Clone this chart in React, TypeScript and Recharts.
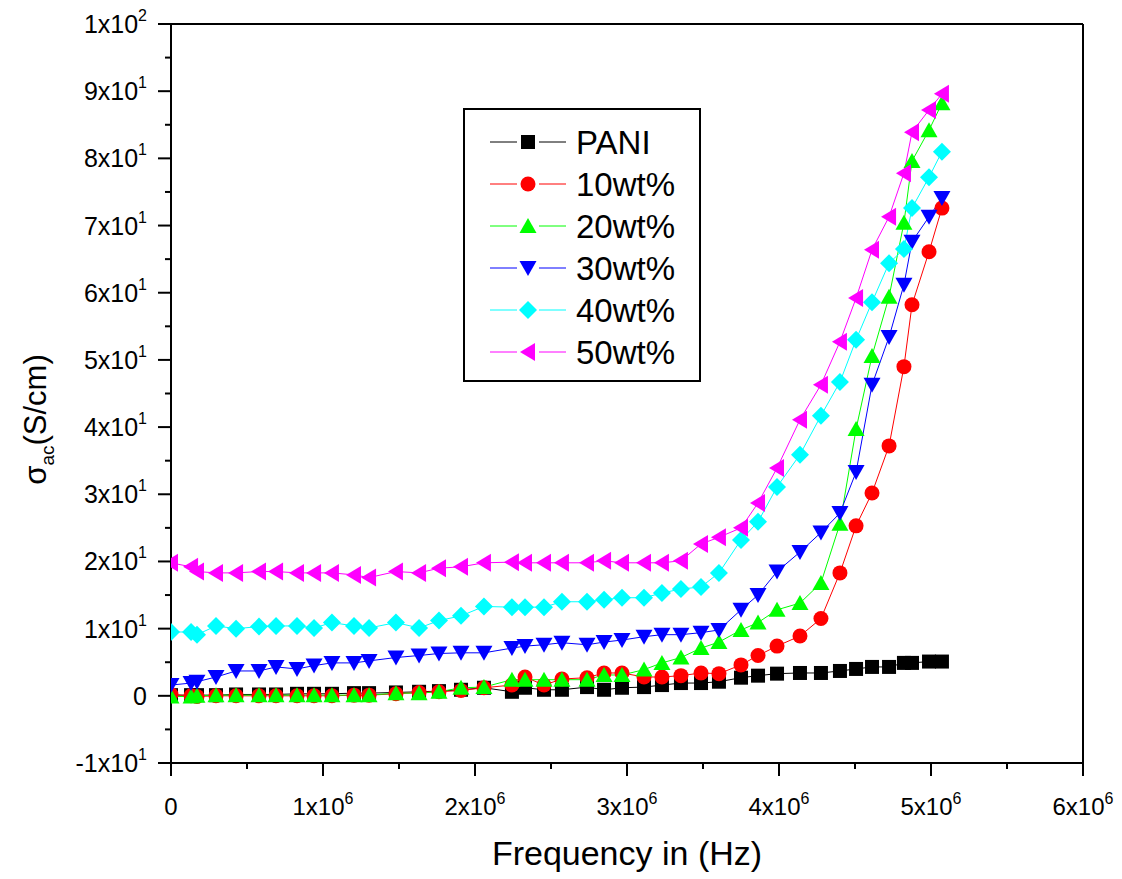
import React from 'react';
import { LineChart, Line, XAxis, YAxis, Legend, ReferenceLine } from 'recharts';

// Frequency points (Hz)
const frequencies = [
  0, 0.132e6, 0.171e6, 0.296e6, 0.428e6, 0.579e6, 0.691e6, 0.829e6, 0.941e6, 1.059e6,
  1.204e6, 1.303e6, 1.48e6, 1.632e6, 1.763e6, 1.908e6, 2.059e6, 2.243e6, 2.329e6, 2.454e6,
  2.572e6, 2.737e6, 2.849e6, 2.967e6, 3.112e6, 3.23e6, 3.355e6, 3.487e6, 3.605e6, 3.75e6,
  3.862e6, 3.987e6, 4.138e6, 4.276e6, 4.401e6, 4.507e6, 4.612e6, 4.724e6, 4.822e6, 4.875e6,
  4.987e6, 5.072e6,
];

// AC conductivity (S/cm) for each sample
const pani = [
  0.1, 0.1, 0.1, 0.1, 0.2, 0.2, 0.2, 0.3, 0.3, 0.3, 0.4, 0.4, 0.5, 0.6, 0.7, 0.9,
  1.2, 0.6, 1.2, 0.9, 0.9, 1.3, 0.9, 1.2, 1.3, 1.6, 1.9, 1.9, 2.1, 2.7, 3.0, 3.3,
  3.4, 3.4, 3.7, 4.0, 4.3, 4.3, 4.9, 4.9, 5.1, 5.1,
];
const wt10 = [
  0.2, 0.0, -0.1, 0.0, 0.0, 0.0, 0.0, 0.0, 0.0, 0.0, 0.1, 0.1, 0.3, 0.5, 0.6, 0.8,
  1.2, 1.6, 2.8, 1.6, 2.5, 2.7, 3.4, 3.4, 2.8, 2.8, 3.0, 3.4, 3.3, 4.6, 6.0, 7.4,
  8.9, 11.5, 18.3, 25.3, 30.2, 37.2, 49.0, 58.2, 66.1, 72.6,
];
const wt20 = [
  -0.1, -0.1, 0.0, 0.1, 0.1, 0.1, 0.1, 0.1, 0.1, 0.1, 0.1, 0.1, 0.4, 0.4, 0.6, 1.2,
  1.3, 2.4, 2.4, 2.4, 2.4, 2.4, 3.1, 3.1, 3.9, 4.9, 5.7, 7.1, 8.0, 9.8, 10.9, 12.8,
  13.8, 16.8, 25.6, 39.7, 50.6, 59.4, 70.4, 79.6, 84.2, 88.2,
];
const wt30 = [
  1.6, 1.9, 2.1, 2.8, 3.7, 3.7, 4.3, 4.0, 4.5, 4.9, 4.9, 5.2, 5.7, 6.0, 6.3, 6.4,
  6.4, 7.1, 7.4, 7.6, 7.9, 7.6, 8.0, 8.3, 8.8, 9.1, 9.1, 9.4, 9.8, 12.8, 15.0, 18.5,
  21.4, 24.3, 27.2, 33.3, 46.3, 53.4, 61.2, 67.6, 71.3, 74.1,
];
const wt40 = [
  9.5, 9.5, 9.1, 10.4, 10.0, 10.3, 10.4, 10.4, 10.1, 10.9, 10.4, 10.1, 10.9, 10.1, 11.2, 11.9,
  13.3, 13.2, 13.2, 13.2, 14.0, 14.0, 14.3, 14.6, 14.6, 15.3, 15.9, 16.2, 18.3, 23.2, 25.9, 31.1,
  35.9, 41.7, 46.7, 53.0, 58.6, 64.4, 66.5, 72.6, 77.2, 81.0,
];
const wt50 = [
  19.8, 19.2, 18.5, 18.3, 18.3, 18.5, 18.5, 18.3, 18.3, 18.3, 18.0, 17.6, 18.5, 18.3, 19.0, 19.2,
  19.8, 19.9, 19.8, 19.8, 19.8, 19.8, 20.1, 19.8, 19.8, 19.8, 20.1, 22.6, 23.6, 25.0, 28.7, 33.9,
  41.1, 46.3, 52.7, 59.2, 66.4, 71.3, 77.8, 83.9, 87.2, 89.6,
];

// Axis ticks (major ticks carry labels, the in-between ones are minor)
const xTicks = [0, 0.5e6, 1e6, 1.5e6, 2e6, 2.5e6, 3e6, 3.5e6, 4e6, 4.5e6, 5e6, 5.5e6, 6e6];
const yTicks = [-10, -5, 0, 5, 10, 15, 20, 25, 30, 35, 40, 45, 50, 55, 60, 65, 70, 75, 80, 85, 90, 95, 100];

const seriesNames = ['PANI', '10wt%', '20wt%', '30wt%', '40wt%', '50wt%'];
const seriesValues = [pani, wt10, wt20, wt30, wt40, wt50];

type Shape = 'square' | 'circle' | 'up' | 'down' | 'diamond' | 'left';
const seriesStyle: { key: string; color: string; shape: Shape }[] = [
  { key: 'pani', color: '#000000', shape: 'square' },
  { key: 'wt10', color: '#ff0000', shape: 'circle' },
  { key: 'wt20', color: '#00ff00', shape: 'up' },
  { key: 'wt30', color: '#0000ff', shape: 'down' },
  { key: 'wt40', color: '#00ffff', shape: 'diamond' },
  { key: 'wt50', color: '#ff00ff', shape: 'left' },
];

const rows = frequencies.map((f, i) => {
  const row: Record<string, number> = { freq: f };
  seriesStyle.forEach((s, k) => {
    row[s.key] = seriesValues[k][i];
  });
  return row;
});

const FONT = 'Arial, "Liberation Sans", sans-serif';

function Marker({ shape, cx, cy, color }: { shape: Shape; cx: number; cy: number; color: string }) {
  switch (shape) {
    case 'square':
      return <rect x={cx - 7} y={cy - 7} width={14} height={14} fill={color} />;
    case 'circle':
      return <circle cx={cx} cy={cy} r={7.5} fill={color} />;
    case 'up':
      return <polygon points={`${cx - 8.5},${cy + 7} ${cx + 8.5},${cy + 7} ${cx},${cy - 8}`} fill={color} />;
    case 'down':
      return <polygon points={`${cx - 8.5},${cy - 7} ${cx + 8.5},${cy - 7} ${cx},${cy + 8}`} fill={color} />;
    case 'diamond':
      return <polygon points={`${cx},${cy - 9} ${cx + 9},${cy} ${cx},${cy + 9} ${cx - 9},${cy}`} fill={color} />;
    case 'left':
    default:
      return <polygon points={`${cx - 8},${cy} ${cx + 7},${cy - 9} ${cx + 7},${cy + 9}`} fill={color} />;
  }
}

const makeDot = (shape: Shape, color: string) => (props: any) => {
  const { cx, cy, index } = props;
  if (cx == null || cy == null) return <g key={`d-${index}`} />;
  return (
    <g key={`d-${index}`}>
      <Marker shape={shape} cx={cx} cy={cy} color={color} />
    </g>
  );
};

const XTick = (props: any) => {
  const { x, y, payload } = props;
  const v: number = payload.value;
  const major = Math.abs(v % 1e6) < 1;
  const k = Math.round(v / 1e6);
  return (
    <g>
      <line x1={x} x2={x} y1={y} y2={y + (major ? 13 : 6)} stroke="#000" strokeWidth={2} />
      {major && (
        <text x={x} y={y + 52} textAnchor="middle" fontSize={24} fontFamily={FONT} fill="#000">
          {k === 0 ? (
            '0'
          ) : (
            <>
              {`${k}x10`}
              <tspan fontSize={16} dy={-11}>6</tspan>
            </>
          )}
        </text>
      )}
    </g>
  );
};

const YTick = (props: any) => {
  const { x, y, payload } = props;
  const v: number = payload.value;
  const major = v % 10 === 0;
  let mant = '';
  let exp = '';
  if (v !== 0) {
    const e = Math.floor(Math.log10(Math.abs(v)));
    const m = Math.round(v / Math.pow(10, e));
    mant = `${m}x10`;
    exp = `${e}`;
  }
  return (
    <g>
      <line x1={x} x2={x - (major ? 13 : 6)} y1={y} y2={y} stroke="#000" strokeWidth={2} />
      {major && (
        <text x={x - 24} y={y + 9} textAnchor="end" fontSize={25} fontFamily={FONT} fill="#000">
          {v === 0 ? (
            '0'
          ) : (
            <>
              {mant}
              <tspan fontSize={16} dy={-12}>{exp}</tspan>
            </>
          )}
        </text>
      )}
    </g>
  );
};

const YLabel = (props: any) => {
  const vb = props.viewBox || { x: 8, y: 16, width: 155, height: 739 };
  const cx = vb.x + 30;
  const cy = vb.y + vb.height / 2 + 26;
  return (
    <text
      x={cx}
      y={cy}
      transform={`rotate(-90 ${cx} ${cy})`}
      textAnchor="middle"
      fontSize={31}
      fontFamily={FONT}
      fill="#000"
    >
      σ
      <tspan fontSize={19} dy={8}>ac</tspan>
      <tspan dy={-8}>(S/cm)</tspan>
    </text>
  );
};

const LegendBox = () => (
  <svg width={238} height={274} style={{ display: 'block' }}>
    <rect x={1} y={1} width={236} height={272} fill="#fff" stroke="#000" strokeWidth={2} />
    {seriesStyle.map((s, i) => {
      const y = 34 + i * 42;
      return (
        <g key={s.key}>
          <line x1={27} x2={54} y1={y} y2={y} stroke={s.color} strokeWidth={1} />
          <line x1={76} x2={103} y1={y} y2={y} stroke={s.color} strokeWidth={1} />
          <Marker shape={s.shape} cx={65} cy={y} color={s.color} />
          <text x={113} y={y + 12} fontSize={33} fontFamily={FONT} fill="#000">
            {seriesNames[i]}
          </text>
        </g>
      );
    })}
  </svg>
);

export default function App() {
  return (
    <div style={{ width: 1110, height: 870, fontFamily: FONT }}>
      <LineChart
        width={1110}
        height={870}
        data={rows}
        margin={{ top: 16, right: 35, bottom: 10, left: 8 }}
      >
        <XAxis
          dataKey="freq"
          type="number"
          domain={[0, 6e6]}
          ticks={xTicks}
          interval={0}
          allowDataOverflow
          tickSize={0}
          tickMargin={0}
          tickLine={false}
          axisLine={{ stroke: '#000', strokeWidth: 2 }}
          tick={<XTick />}
          height={105}
          label={{
            value: 'Frequency in (Hz)',
            position: 'insideBottom',
            offset: 3,
            fontSize: 34,
            fill: '#000',
            fontFamily: FONT,
          }}
        />
        <YAxis
          type="number"
          domain={[-10, 100]}
          ticks={yTicks}
          interval={0}
          allowDataOverflow
          tickSize={0}
          tickMargin={0}
          tickLine={false}
          axisLine={{ stroke: '#000', strokeWidth: 2 }}
          tick={<YTick />}
          width={155}
          label={{ content: <YLabel /> }}
        />
        <ReferenceLine y={100} stroke="#000" strokeWidth={2} />
        <ReferenceLine x={6e6} stroke="#000" strokeWidth={2} />
        {seriesStyle.map((s, i) => (
          <Line
            key={s.key}
            type="linear"
            dataKey={s.key}
            name={seriesNames[i]}
            stroke={s.color}
            strokeWidth={1}
            dot={makeDot(s.shape, s.color)}
            activeDot={false}
            isAnimationActive={false}
          />
        ))}
        <Legend
          layout="vertical"
          align="center"
          verticalAlign="middle"
          content={<LegendBox />}
          wrapperStyle={{ left: 455, top: 100, width: 238, height: 274 }}
        />
      </LineChart>
    </div>
  );
}
